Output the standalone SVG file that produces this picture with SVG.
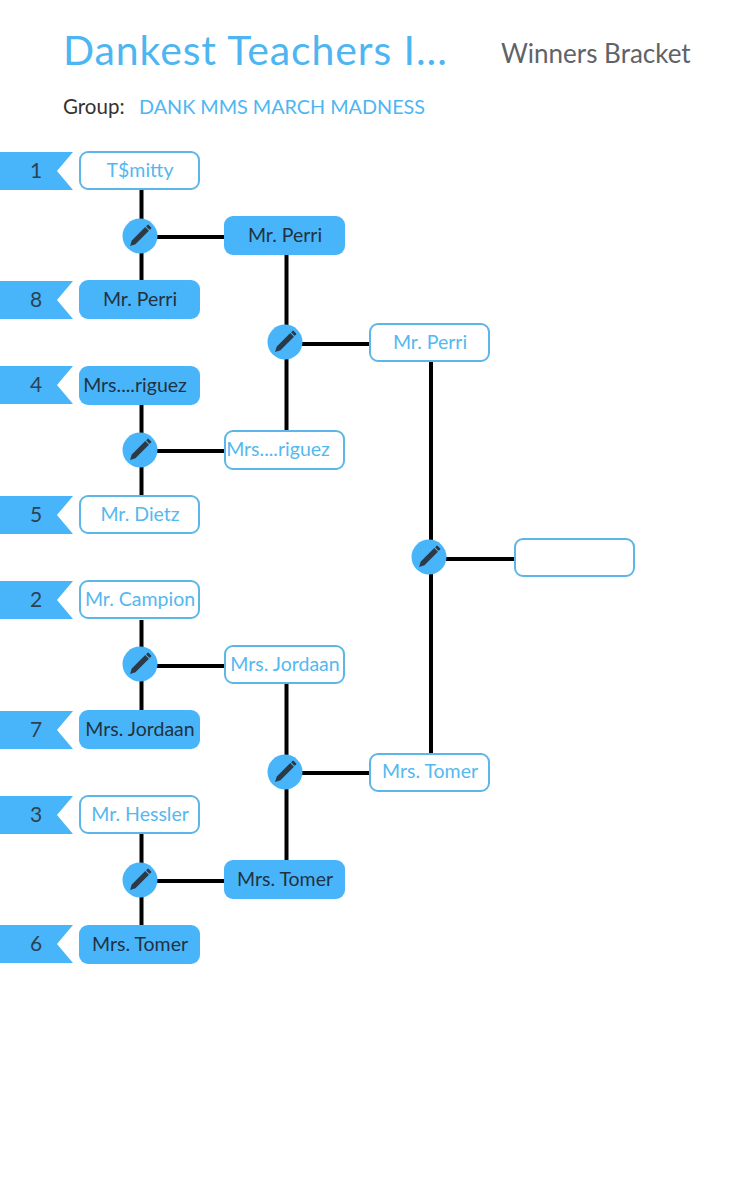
<svg xmlns="http://www.w3.org/2000/svg" width="744" height="1200" viewBox="0 0 744 1200">
<style>
text{font-family:Lato,"Open Sans","Liberation Sans",sans-serif}
.t{text-anchor:middle;font-size:19.5px}
.o rect{fill:#fff;stroke:#5db7e6;stroke-width:2}
.o text{fill:#54b8f0}
.f rect{fill:#48b5fb}
.f text{fill:#22323f}
.rib{fill:#48b5fb}
.num{text-anchor:middle;font-size:21px;fill:#2c4252}
.c{stroke:#000;stroke-width:4;fill:none}
</style>
<defs>
<g id="pick">
<circle r="17.5" fill="#48b5fb"/>
<g transform="rotate(45)" fill="#2b3a46">
<path d="M-2.600,-10 L2.600,-10 L2.600,9 L0,14 L-2.600,9 Z"/>
<rect x="-2.600" y="-14" width="5.200" height="3" rx="1"/>
</g>
</g>
<path id="ribbon" class="rib" d="M0,-19 H73 L57,0 L73,19 H0 Z"/>
</defs>
<rect width="744" height="1200" fill="#fff"/>
<g id="header">
<text x="63" y="65" font-size="41" letter-spacing="0.9" fill="#4db6f2">Dankest Teachers I...</text>
<text x="501" y="63" font-size="26" fill="#5f6368">Winners Bracket</text>
<text x="63" y="114" font-size="20.500" fill="#333">Group:</text>
<text x="139" y="114" font-size="19.800" fill="#4db6f2">DANK MMS MARCH MADNESS</text>
</g>
<g id="connectors" class="c">
<path d="M141.500,190V281M157,237H224"/>
<path d="M141.500,405V496M157,451H224"/>
<path d="M141.500,620V711M157,666H224"/>
<path d="M141.500,834V925M157,881H224"/>
<path d="M286.500,255V431M302,344H369"/>
<path d="M286.500,684V860M302,773H369"/>
<path d="M431,362V753M446,559H514"/>
</g>
<g id="seeds">
<g id="seed1"><use href="#ribbon" y="171"/><text class="num" x="36" y="178">1</text></g>
<g id="seed8"><use href="#ribbon" y="300"/><text class="num" x="36" y="307">8</text></g>
<g id="seed4"><use href="#ribbon" y="385"/><text class="num" x="36" y="392">4</text></g>
<g id="seed5"><use href="#ribbon" y="515"/><text class="num" x="36" y="522">5</text></g>
<g id="seed2"><use href="#ribbon" y="600"/><text class="num" x="36" y="607">2</text></g>
<g id="seed7"><use href="#ribbon" y="730"/><text class="num" x="36" y="737">7</text></g>
<g id="seed3"><use href="#ribbon" y="815"/><text class="num" x="36" y="822">3</text></g>
<g id="seed6"><use href="#ribbon" y="944"/><text class="num" x="36" y="951">6</text></g>
</g>
<g id="n1" class="o"><rect x="80" y="152" width="119" height="37" rx="8"/><text class="t" x="140" y="177">T$mitty</text></g>
<g id="n8" class="f"><rect x="79" y="280" width="121" height="39" rx="9"/><text class="t" x="140" y="306">Mr. Perri</text></g>
<g id="n4" class="f"><rect x="79" y="366" width="121" height="39" rx="9"/><text class="t" x="135" y="392">Mrs....riguez</text></g>
<g id="n5" class="o"><rect x="80" y="496" width="119" height="37" rx="8"/><text class="t" x="140" y="521">Mr. Dietz</text></g>
<g id="n2" class="o"><rect x="80" y="581" width="119" height="37" rx="8"/><text class="t" x="140" y="606">Mr. Campion</text></g>
<g id="n7" class="f"><rect x="79" y="710" width="121" height="39" rx="9"/><text class="t" x="140" y="736">Mrs. Jordaan</text></g>
<g id="n3" class="o"><rect x="80" y="796" width="119" height="37" rx="8"/><text class="t" x="140" y="821">Mr. Hessler</text></g>
<g id="n6" class="f"><rect x="79" y="925" width="121" height="39" rx="9"/><text class="t" x="140" y="951">Mrs. Tomer</text></g>
<g id="r2a" class="f"><rect x="224" y="216" width="121" height="39" rx="9"/><text class="t" x="285" y="242">Mr. Perri</text></g>
<g id="r2b" class="o"><rect x="225" y="431" width="119" height="38" rx="8"/><text class="t" x="278" y="456">Mrs....riguez</text></g>
<g id="r2c" class="o"><rect x="225" y="646" width="119" height="37" rx="8"/><text class="t" x="285" y="671">Mrs. Jordaan</text></g>
<g id="r2d" class="f"><rect x="224" y="860" width="121" height="39" rx="9"/><text class="t" x="285" y="886">Mrs. Tomer</text></g>
<g id="r3a" class="o"><rect x="370" y="324" width="119" height="37" rx="8"/><text class="t" x="430" y="349">Mr. Perri</text></g>
<g id="r3b" class="o"><rect x="370" y="754" width="119" height="37" rx="8"/><text class="t" x="430" y="778">Mrs. Tomer</text></g>
<g id="final" class="o"><rect x="515" y="539" width="119" height="37" rx="8"/></g>
<g id="match1"><use href="#pick" x="140" y="236"/></g>
<g id="match2"><use href="#pick" x="140" y="450"/></g>
<g id="match3"><use href="#pick" x="140" y="664"/></g>
<g id="match4"><use href="#pick" x="140" y="880"/></g>
<g id="match5"><use href="#pick" x="285" y="342"/></g>
<g id="match6"><use href="#pick" x="285" y="772"/></g>
<g id="match7"><use href="#pick" x="429" y="557"/></g>
</svg>
